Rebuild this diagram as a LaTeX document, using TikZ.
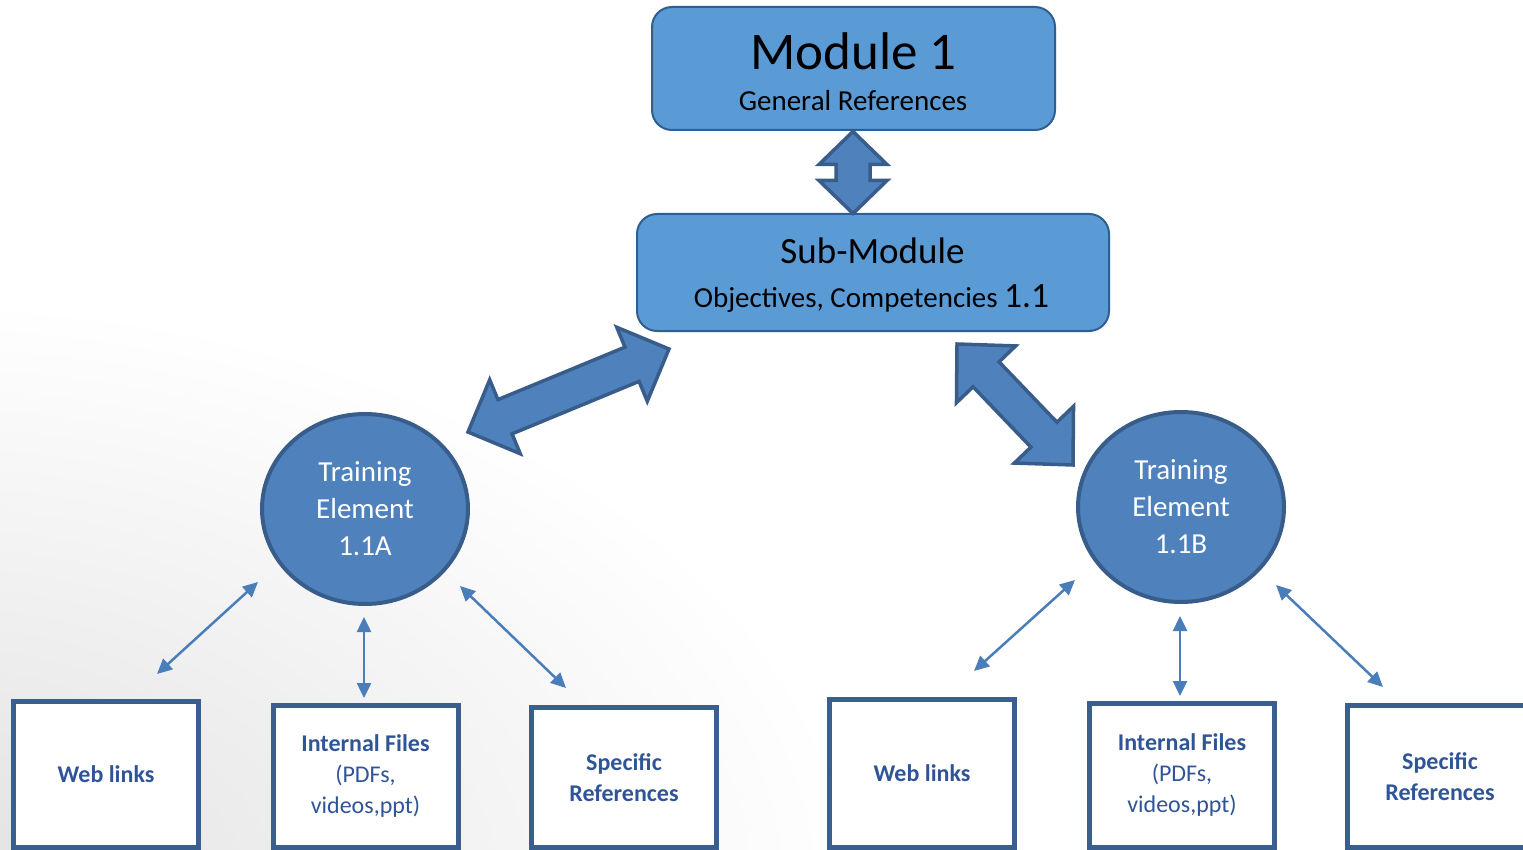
\documentclass[tikz,border=0pt]{standalone}
\usepackage{fontspec}
\setmainfont{Carlito}
\usetikzlibrary{calc,arrows.meta,shapes.geometric}

\definecolor{modfill}{HTML}{5B9BD5}
\definecolor{modline}{HTML}{2F5E91}
\definecolor{elfill}{HTML}{4F81BD}
\definecolor{elline}{HTML}{385D8A}
\definecolor{linkblue}{HTML}{4A7EBB}
\definecolor{boxtext}{HTML}{2F5597}
\definecolor{boxline}{HTML}{3A5F8E}

% soft grey glow for the page background
\pgfdeclareradialshading{pageglow}{\pgfpoint{0bp}{0bp}}{%
  color(0bp)=(black!12); color(600bp)=(white); color(620bp)=(white)}

\tikzset{
  modbox/.style={rectangle, draw=modline, fill=modfill, line width=2pt,
    rounded corners=20pt, inner sep=0pt},
  element/.style={ellipse, draw=elline, fill=elfill, line width=4pt,
    minimum width=206pt, minimum height=190pt, inner sep=0pt, text=white,
    align=center, font=\fontsize{29}{37}\selectfont},
  resbox/.style={rectangle, draw=boxline, fill=white, line width=5pt,
    minimum width=185pt, inner sep=0pt, text=boxtext, align=center,
    font=\fontsize{24}{31}\selectfont},
  link/.style={draw=linkblue, line width=2.5pt,
    {Triangle[length=15pt,width=14pt]}-{Triangle[length=15pt,width=14pt]}},
  blockarr/.style={fill=elfill, draw=elline, line width=3.5pt, line join=miter},
}

% block double arrow between two named points:
% #1,#2 tips, #3 half body width, #4 half head width, #5 head length
\newcommand\blockarrow[5]{%
  \coordinate (ha) at ($(#1)!#5!(#2)$);
  \coordinate (hb) at ($(#2)!#5!(#1)$);
  \draw[blockarr] (#1)
    -- ($(ha)!#4!90:(#2)$) -- ($(ha)!#3!90:(#2)$)
    -- ($(hb)!#3!-90:(#1)$) -- ($(hb)!#4!-90:(#1)$)
    -- (#2)
    -- ($(hb)!#4!90:(#1)$) -- ($(hb)!#3!90:(#1)$)
    -- ($(ha)!#3!-90:(#2)$) -- ($(ha)!#4!-90:(#2)$)
    -- cycle;}

\begin{document}
\begin{tikzpicture}[x=1pt, y=-1pt]
  \useasboundingbox (0,0) rectangle (1523,850);

  % page background, greyish towards the lower left corner
  \begin{scope}
    \clip (0,0) rectangle (1523,850);
    \fill[white] (0,0) rectangle (1523,850);
    \node[inner sep=0pt, outer sep=0pt, xscale=1.6, transform shape]
      (glowbg) at (-100,900) {\pgfuseshading{pageglow}};
  \end{scope}

  % module and sub-module
  \node[modbox, minimum width=403pt, minimum height=123pt] (mod) at (853.5,68.5) {};
  \node[anchor=base, font=\fontsize{53}{60}\selectfont] (modtitle) at (853.5,69.5) {Module 1};
  \node[anchor=base, font=\fontsize{29}{34}\selectfont] (modsub) at (853,110.5) {General References};

  \node[modbox, minimum width=472pt, minimum height=117pt] (sub) at (873,272.5) {};
  \node[anchor=base, font=\fontsize{37}{42}\selectfont] (subtitle) at (872.5,263.5) {Sub-Module};
  \node[anchor=base, font=\fontsize{29}{34}\selectfont] (subsub) at (871.5,307.5)
    {Objectives, Competencies {\fontsize{35.5}{40}\selectfont 1.1}};

  % training elements
  \node[element] (ea) at (365,509) {Training\\Element\\1.1A};
  \node[element] (eb) at (1181,507) {Training\\Element\\1.1B};

  % block arrows
  \coordinate (ma) at (853,131.5);
  \coordinate (mb) at (853,213.5);
  \blockarrow{ma}{mb}{17pt}{34pt}{33pt}

  \coordinate (la) at (468,432);
  \coordinate (lb) at (669,349);
  \blockarrow{la}{lb}{18.5pt}{40pt}{40pt}

  \coordinate (ra) at (957,344);
  \coordinate (rb) at (1073,465);
  \blockarrow{ra}{rb}{18pt}{41pt}{42pt}

  % resource boxes
  \node[resbox, minimum height=146pt] (wa) at (106,774.5) {\bfseries Web links};
  \node[resbox, minimum height=142pt] (ia) at (365.5,776.5)
    {\bfseries Internal Files\\(PDFs,\\videos,ppt)};
  \node[resbox, minimum height=140pt] (sa) at (624,777.5)
    {\bfseries Specific\\\bfseries References};

  \node[resbox, minimum height=148pt] (wb) at (922,773.5) {\bfseries Web links};
  \node[resbox, minimum height=144pt] (ib) at (1182,775.5)
    {\bfseries Internal Files\\(PDFs,\\videos,ppt)};
  \node[resbox, minimum height=142pt] (sb) at (1440,776.5)
    {\bfseries Specific\\\bfseries References};

  % thin links between elements and resources
  \coordinate (wa1) at (258,582);  \coordinate (wa2) at (157,674);
  \coordinate (ia1) at (364,617);  \coordinate (ia2) at (364,698);
  \coordinate (sa1) at (460,586);  \coordinate (sa2) at (566,688);
  \coordinate (wb1) at (1075,580); \coordinate (wb2) at (974,671);
  \coordinate (ib1) at (1180,616); \coordinate (ib2) at (1180,696);
  \coordinate (sb1) at (1276,585); \coordinate (sb2) at (1383,687);
  \draw[link] (wa1) -- (wa2);
  \draw[link] (ia1) -- (ia2);
  \draw[link] (sa1) -- (sa2);
  \draw[link] (wb1) -- (wb2);
  \draw[link] (ib1) -- (ib2);
  \draw[link] (sb1) -- (sb2);
\end{tikzpicture}
\end{document}
